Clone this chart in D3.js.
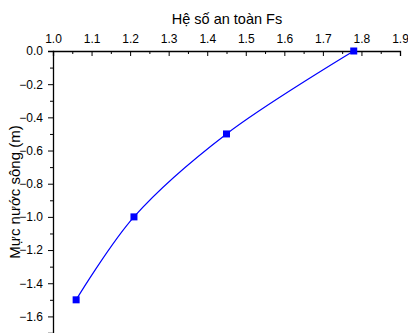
<!DOCTYPE html>
<html>
<head>
<meta charset="utf-8">
<script src="https://cdn.jsdelivr.net/npm/d3@7"></script>
<style>
	body { margin: 0; background: #fff; }
	svg { display: block; font-family: "Liberation Sans", Arial, sans-serif; }
</style>
</head>
<body>
<div id="chart"></div>
<script>
"use strict";

// Data
const safetyFactor = [1.78, 1.45, 1.21, 1.06];
const waterLevel = [0.0, -0.5, -1.0, -1.5];
const xTicks = [1.0, 1.1, 1.2, 1.3, 1.4, 1.5, 1.6, 1.7, 1.8, 1.9];
const yTicks = [0.0, -0.2, -0.4, -0.6, -0.8, -1.0, -1.2, -1.4, -1.6];

const width = 408, height = 333;
const plotLeft = 53, plotTop = 51, plotRight = 400, plotBottom = 333;

const svg = d3.select('#chart').append('svg')
	.attr('width', width)
	.attr('height', height);

const x = d3.scaleLinear().domain([1.0, 1.9]).range([plotLeft, plotRight]);
const y = d3.scaleLinear().domain([0, -1.7]).range([plotTop, plotBottom]);

//  Top axis (ticks point into the plot)
const xAxis = svg.append('g')
	.attr('transform', `translate(0, ${plotTop})`)
	.call(d3.axisBottom(x).tickValues(xTicks).tickSize(5).tickFormat(d3.format('.1f')));
xAxis.selectAll('text').attr('y', -8).attr('dy', 0).style('font-size', '12px').style('fill', '#000');

svg.append('g')
	.attr('transform', `translate(0, ${plotTop})`)
	.call(d3.axisBottom(x).tickValues(d3.range(1.05, 1.9, 0.1)).tickSize(3).tickFormat(''))
	.select('.domain').remove();

//  Left axis (ticks point outward)
const yAxis = svg.append('g')
	.attr('transform', `translate(${plotLeft}, 0)`)
	.call(d3.axisLeft(y).tickValues(yTicks).tickSize(5).tickFormat(d3.format('.1f')));
yAxis.selectAll('text').attr('x', -10).style('font-size', '12px').style('fill', '#000');

svg.append('g')
	.attr('transform', `translate(${plotLeft}, 0)`)
	.call(d3.axisLeft(y).tickValues(d3.range(-0.1, -1.75, -0.2)).tickSize(3).tickFormat(''))
	.select('.domain').remove();

svg.selectAll('.domain').attr('stroke', '#000').attr('stroke-width', 1.3);
svg.selectAll('.tick line').attr('stroke', '#000');

//  Titles
svg.append('text')
	.attr('x', 227)
	.attr('y', 23.5)
	.attr('text-anchor', 'middle')
	.style('font-size', '14.5px')
	.text('Hệ số an toàn Fs');

svg.append('text')
	.attr('transform', 'translate(19.5, 192) rotate(-90)')
	.attr('text-anchor', 'middle')
	.style('font-size', '15px')
	.text('Mực nước sông (m)');

//  Curve and markers
const points = safetyFactor.map((fs, i) => ({ fs: fs, level: waterLevel[i] }));

svg.append('path')
	.datum(points)
	.attr('fill', 'none')
	.attr('stroke', '#0000ff')
	.attr('stroke-width', 1.2)
	.attr('d', d3.line()
		.x(p => x(p.fs))
		.y(p => y(p.level))
		.curve(d3.curveCatmullRom));

const size = 7;
svg.selectAll('.marker')
	.data(points)
	.join('rect')
	.classed('marker', true)
	.attr('x', p => x(p.fs) - size / 2)
	.attr('y', p => y(p.level) - size / 2)
	.attr('width', size)
	.attr('height', size)
	.attr('fill', '#0000ff');
</script>
</body>
</html>
